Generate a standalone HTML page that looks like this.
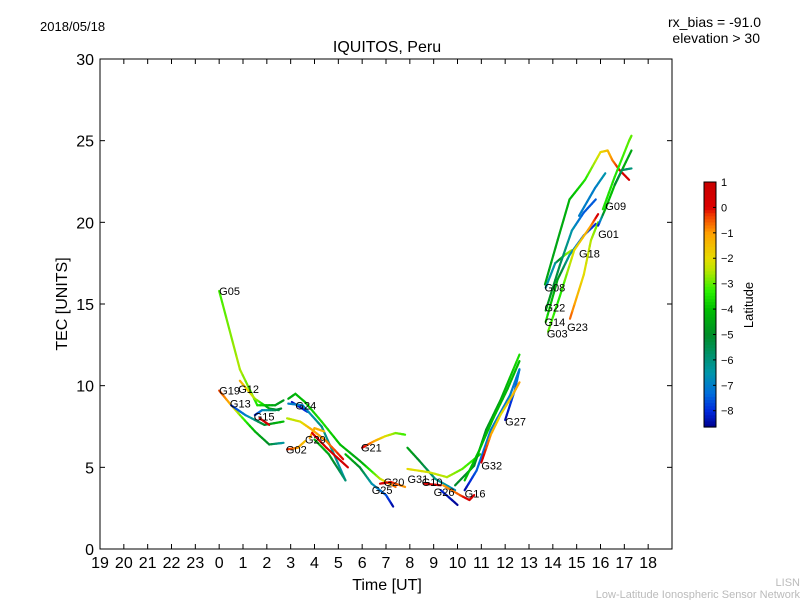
<!DOCTYPE html>
<html><head><meta charset="utf-8"><style>
body{margin:0;background:#fff;}
svg{font-family:"Liberation Sans","DejaVu Sans",sans-serif;}
</style></head><body>
<svg id="c" width="800" height="600" viewBox="0 0 800 600">
<rect width="800" height="600" fill="#fff"/>
<text x="40" y="31" font-size="13">2018/05/18</text>
<text x="761" y="27" font-size="14" text-anchor="end">rx_bias = -91.0</text>
<text x="760" y="43" font-size="14" text-anchor="end">elevation &gt; 30</text>
<text x="387" y="52" font-size="16" text-anchor="middle">IQUITOS, Peru</text>
<text x="387" y="590" font-size="16" text-anchor="middle">Time [UT]</text>
<text x="67" y="304" font-size="16" text-anchor="middle" transform="rotate(-90 67 304)">TEC [UNITS]</text>
<text x="800" y="586" font-size="11" fill="#bbb" text-anchor="end">LISN</text>
<text x="800" y="598" font-size="11" fill="#bbb" text-anchor="end">Low-Latitude Ionospheric Sensor Network</text>
<g id="marks"></g>
<rect x="100" y="59" width="572" height="490" fill="none" stroke="#000" stroke-width="1"/>
<g id="axes"></g>
<g id="cbar"></g>
<text x="753" y="305" font-size="13" text-anchor="middle" transform="rotate(-90 753 305)">Latitude</text>
</svg>
<script>
const xTicks=[-5,-4,-3,-2,-1,0,1,2,3,4,5,6,7,8,9,10,11,12,13,14,15,16,17,18];
const xTickLabels=["19","20","21","22","23","0","1","2","3","4","5","6","7","8","9","10","11","12","13","14","15","16","17","18"];
const yTicks=[0,5,10,15,20,25,30];
const cbTicks=[1,0,-1,-2,-3,-4,-5,-6,-7,-8];
const latMin=-8.64, latMax=1;
const tracks=[
 {name:"G05",pts:[[0,15.8,-3.2],[0.87,11.0,-2.5],[1.6,8.8,-3.5],[2.35,8.8,-4.5],[2.7,9.1,-4.8]]},
 {name:"G12",pts:[[0.87,10.3,-1.2],[1.5,9.2,-2.5],[2.1,8.6,-4.5],[2.5,8.5,-5.5]]},
 {name:"G19",pts:[[0,9.7,-0.3],[0.45,8.9,-1.2],[0.87,8.2,-2.8],[1.5,7.2,-4.2],[2.1,6.4,-5.0],[2.7,6.5,-6.5]]},
 {name:"G13",pts:[[0.5,8.8,-8],[1.1,8.2,-7],[1.9,7.6,-5],[2.7,7.8,-4]]},
 {name:"G15",pts:[[1.5,8.2,-8.2],[1.8,8.5,-7],[2.35,8.5,-5.5],[2.6,8.6,-5]]},
 {name:"G15b",pts:[[1.7,8.0,0],[2.1,7.6,0.5]]},
 {name:"G24",pts:[[3.05,9.0,-8.3],[3.7,8.4,-8]]},
 {name:"G24g",pts:[[2.9,9.2,-4.5],[3.2,9.5,-4.2],[3.6,9.0,-4],[4.3,7.8,-3.5],[5.07,6.4,-4],[5.9,5.4,-4.5],[6.75,4.3,-2.5],[7.4,3.8,-0.5]]},
 {name:"G24t",pts:[[2.9,8.9,-7],[3.5,8.8,-7],[4.3,7.5,-6],[5.3,4.2,-6.5]]},
 {name:"G02",pts:[[2.85,6.1,0],[3.3,6.2,-1],[3.6,6.6,-1.5]]},
 {name:"G02y",pts:[[2.85,8.0,-2.5],[3.4,7.8,-2.2],[3.9,7.3,-1.2],[4.5,6.6,-0.8],[5.2,5.5,0]]},
 {name:"G29",pts:[[3.8,6.8,-1],[4.0,7.4,-1.2],[4.4,7.2,-1.5]]},
 {name:"G29r",pts:[[3.9,7.1,0],[4.5,6.2,0.3],[5.4,5.0,0.5]]},
 {name:"G29g",pts:[[4.0,6.7,-4],[4.6,5.8,-4.5],[5.3,4.2,-6]]},
 {name:"G25",pts:[[5.3,5.8,-4],[5.9,5.0,-5],[6.4,4.0,-6.5],[7.0,3.3,-7.5],[7.3,2.6,-8.5]]},
 {name:"G21",pts:[[6.0,6.2,0.3],[6.5,6.6,-1],[6.96,6.9,-2],[7.4,7.1,-2.8],[7.8,7.0,-3.2]]},
 {name:"G20",pts:[[6.75,4.0,0.5],[7.2,4.1,0],[7.8,3.8,-1]]},
 {name:"G31",pts:[[7.9,6.2,-4.5],[8.4,5.4,-5],[9.06,4.3,-6],[9.9,3.6,-6.8]]},
 {name:"G31y",pts:[[7.9,4.9,-2],[8.8,4.7,-2.2],[9.56,4.4,-2.5],[10.2,4.9,-3],[10.95,5.8,-3.5]]},
 {name:"G10",pts:[[8.6,4.0,0.5],[9.3,3.9,0.5]]},
 {name:"G26",pts:[[9.3,3.6,-8],[10.0,2.7,-8.6]]},
 {name:"G16o",pts:[[9.4,3.9,-1],[10.1,3.3,-0.5],[10.5,3.0,0.5],[10.7,3.3,0.3]]},
 {name:"G16",pts:[[10.3,3.6,-8.5],[10.8,4.8,-7.5],[11.4,7.3,-7],[12.2,9.4,-7],[12.6,11.0,-7.2]]},
 {name:"Grise",pts:[[9.9,3.9,-5],[10.7,5.1,-5],[11.2,7.3,-4.8],[11.8,9.1,-4.5],[12.6,11.9,-3.5]]},
 {name:"Grise2",pts:[[10.3,4.2,-4],[10.9,6.0,-4],[11.5,8.0,-4],[12.1,9.8,-4.2],[12.6,11.5,-4]]},
 {name:"G27",pts:[[12.0,7.9,-8.5],[12.4,9.7,-7.5],[12.6,11.0,-7]]},
 {name:"G32",pts:[[11.0,5.3,0.5],[11.4,7.0,-1],[11.8,8.2,-2],[12.3,9.4,-1.5],[12.6,10.2,-1]]},
 {name:"G08",pts:[[13.67,16.2,-4.5],[14.2,18.9,-4.5],[14.7,21.4,-4.2],[15.35,22.6,-3.5],[16.0,24.3,-2],[16.3,24.4,-1.5],[16.5,23.8,-0.8],[16.8,23.2,0],[17.2,22.6,0.5]]},
 {name:"G08t",pts:[[13.7,16.0,-6.5],[14.1,17.5,-6.5],[14.5,18.0,-3],[14.8,18.3,-2.5]]},
 {name:"G22",pts:[[13.7,14.6,-4.5],[14.3,17.4,-5.5],[14.8,19.5,-6.5],[15.3,20.6,-7.5],[15.8,21.4,-7.5]]},
 {name:"G14",pts:[[13.7,13.9,-3.5],[14.2,16.5,-4.5],[14.7,18.0,-6.5],[15.3,19.2,-7.5],[15.8,19.9,-8]]},
 {name:"G03",pts:[[13.8,13.3,-3],[14.3,15.5,-3.5],[14.9,18.3,-2],[15.6,19.8,-1],[15.9,20.5,0.3]]},
 {name:"G23",pts:[[14.72,14.1,-0.5],[15.3,16.8,-2],[15.6,18.9,-2.5],[15.9,20.0,-3]]},
 {name:"G01",pts:[[15.9,19.8,-8.5],[16.2,20.8,-4],[16.6,22.3,-4],[17.3,24.4,-4.5]]},
 {name:"G09",pts:[[16.1,20.8,-3.5],[16.6,22.8,-3.5],[17.2,25.0,-3],[17.3,25.3,-3]]},
 {name:"G09t",pts:[[16.6,22.3,-5],[16.9,23.2,-5.5],[17.3,23.3,-6]]},
 {name:"G18b",pts:[[15.1,20.4,-7],[15.77,22.1,-7],[16.2,23.0,-6.5]]}
];
const labelNames=["G05","G19","G12","G13","G15","G24","G29","G02","G21","G20","G25","G31","G10","G26","G16","G32","G27","G08","G22","G14","G03","G23","G18","G01","G09"];
const labelT=[0.0,0.0,0.8,0.45,1.45,3.2,3.6,2.8,5.95,6.9,6.4,7.9,8.5,9.0,10.3,11.0,12.0,13.65,13.65,13.65,13.75,14.6,15.1,15.9,16.2];
const labelV=[15.8,9.7,9.8,8.9,8.1,8.8,6.7,6.1,6.2,4.1,3.6,4.3,4.1,3.5,3.4,5.1,7.8,16.0,14.8,13.9,13.2,13.6,18.1,19.3,21.0];

const NS="http://www.w3.org/2000/svg";
const X0=100,X1=672,Y0=549,Y1=59;
function sx(t){return X0+(t+5)/24*(X1-X0);}
function sy(v){return Y0-v/30*(Y0-Y1);}
const cmapStops=[[-8.64,0,0,140],[-8.0,0,40,220],[-7.3,0,110,220],[-6.5,0,150,170],[-5.6,0,145,90],[-5.0,0,140,40],[-4.0,0,190,0],[-3.3,40,240,0],[-2.5,180,230,0],[-2.0,230,220,0],[-1.0,255,160,0],[-0.3,240,60,0],[0,220,0,0],[1,200,0,0]];
function jet(lat){
 if(lat<=cmapStops[0][0])return `rgb(0,0,140)`;
 for(let i=0;i<cmapStops.length-1;i++){
  const a=cmapStops[i],b=cmapStops[i+1];
  if(lat<=b[0]){const u=(lat-a[0])/(b[0]-a[0]);
   return `rgb(${Math.round(a[1]+(b[1]-a[1])*u)},${Math.round(a[2]+(b[2]-a[2])*u)},${Math.round(a[3]+(b[3]-a[3])*u)})`;}
 }
 return `rgb(200,0,0)`;
}
function mk(tag,attrs,parent){const e=document.createElementNS(NS,tag);for(const k in attrs)e.setAttribute(k,attrs[k]);parent.appendChild(e);return e;}
const marks=document.getElementById('marks');
tracks.forEach(tr=>{
 const g=mk('g',{},marks);
 
 
 for(let i=0;i<tr.pts.length-1;i++){
  const a=tr.pts[i],b=tr.pts[i+1];const n=6;
  for(let k=0;k<n;k++){
   const u0=k/n,u1=(k+1)/n;
   const ln=mk('line',{x1:sx(a[0]+(b[0]-a[0])*u0),y1:sy(a[1]+(b[1]-a[1])*u0),x2:sx(a[0]+(b[0]-a[0])*u1),y2:sy(a[1]+(b[1]-a[1])*u1),stroke:jet(a[2]+(b[2]-a[2])*(u0+u1)/2),'stroke-width':2.2,'stroke-linecap':'round'},g);
   
   
  }
 }
});
labelNames.forEach((n,i)=>{
 const t=mk('text',{x:sx(labelT[i]),y:sy(labelV[i])+4,'font-size':11},marks);
 t.textContent=n;
 
 
});
const axes=document.getElementById('axes');
xTicks.forEach((t,i)=>{
 const x=sx(t);
 const a=mk('line',{x1:x,y1:Y0,x2:x,y2:Y0-5,stroke:'#000'},axes);
 
 const b=mk('line',{x1:x,y1:Y1,x2:x,y2:Y1+5,stroke:'#000'},axes);
 
 const tx=mk('text',{x:x,y:Y0+19,'font-size':16,'text-anchor':'middle'},axes);
 tx.textContent=xTickLabels[i];
 
});
yTicks.forEach(v=>{
 const y=sy(v);
 const a=mk('line',{x1:X0,y1:y,x2:X0+5,y2:y,stroke:'#000'},axes);
 
 const b=mk('line',{x1:X1,y1:y,x2:X1-5,y2:y,stroke:'#000'},axes);
 
 const tx=mk('text',{x:X0-6,y:y+6,'font-size':16,'text-anchor':'end'},axes);
 tx.textContent=String(v);
 
});
const cb=document.getElementById('cbar');
const CX=704,CW=12,CT=182,CB=427;
function cy(l){return CB-(l-latMin)/(latMax-latMin)*(CB-CT);}
for(let i=0;i<80;i++){
 const l0=latMin+(latMax-latMin)*i/80,l1=latMin+(latMax-latMin)*(i+1)/80;
 const r=mk('rect',{x:CX,y:cy(l1),width:CW,height:cy(l0)-cy(l1)+0.6,fill:jet((l0+l1)/2)},cb);
 
}
const fr=mk('rect',{x:CX,y:CT,width:CW,height:CB-CT,fill:'none',stroke:'#000'},cb);

cbTicks.forEach(l=>{
 const y=cy(l);
 const a=mk('line',{x1:CX+CW-3,y1:y,x2:CX+CW,y2:y,stroke:'#000'},cb);
 
 const tx=mk('text',{x:CX+CW+5,y:y+4,'font-size':11},cb);
 tx.textContent=l<0?'\u2212'+Math.abs(l):String(l);
 
});
</script>
</body></html>
